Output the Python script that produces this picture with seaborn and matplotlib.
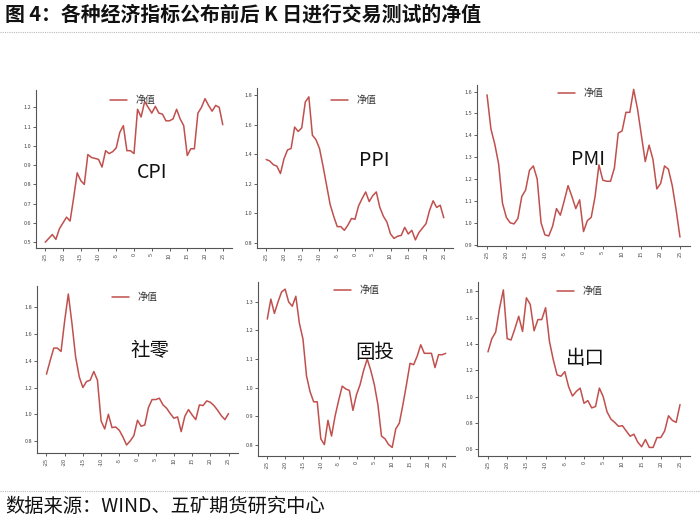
import matplotlib
matplotlib.use("Agg")
import matplotlib.pyplot as plt
import seaborn as sns
import pandas as pd

days = list(range(-25, 26))

cpi = [0.50, 0.52, 0.54, 0.515, 0.57, 0.60, 0.63, 0.61, 0.73, 0.86, 0.82, 0.80, 0.955,
       0.94, 0.935, 0.93, 0.89, 0.975, 0.96, 0.97, 0.99, 1.07, 1.105, 0.975, 0.975, 0.96,
       1.19, 1.15, 1.23, 1.20, 1.17, 1.205, 1.17, 1.165, 1.13, 1.13, 1.14, 1.19, 1.14,
       1.105, 0.95, 0.985, 0.985, 1.17, 1.20, 1.245, 1.21, 1.18, 1.21, 1.20, 1.11]
ppi = [1.365, 1.355, 1.33, 1.32, 1.27, 1.37, 1.43, 1.44, 1.585, 1.555, 1.58, 1.755, 1.79,
       1.53, 1.50, 1.44, 1.32, 1.19, 1.06, 0.98, 0.91, 0.91, 0.885, 0.92, 0.965, 0.96,
       1.05, 1.10, 1.145, 1.08, 1.12, 1.145, 1.04, 0.98, 0.94, 0.86, 0.83, 0.845, 0.85,
       0.905, 0.86, 0.885, 0.82, 0.87, 0.90, 0.93, 1.02, 1.085, 1.04, 1.055, 0.97]
pmi = [1.585, 1.43, 1.36, 1.27, 1.09, 1.025, 1.00, 0.995, 1.02, 1.12, 1.15, 1.24, 1.26,
       1.20, 1.00, 0.945, 0.94, 0.985, 1.065, 1.035, 1.10, 1.17, 1.12, 1.065, 1.105, 0.96,
       1.01, 1.025, 1.12, 1.265, 1.195, 1.19, 1.19, 1.25, 1.41, 1.42, 1.505, 1.505, 1.61,
       1.52, 1.40, 1.28, 1.355, 1.29, 1.155, 1.18, 1.26, 1.245, 1.17, 1.06, 0.935]
retail = [1.30, 1.40, 1.495, 1.495, 1.47, 1.70, 1.90, 1.68, 1.43, 1.28, 1.20, 1.245, 1.255,
          1.32, 1.255, 0.95, 0.89, 1.00, 0.90, 0.905, 0.88, 0.83, 0.77, 0.80, 0.84, 0.955,
          0.91, 0.92, 1.05, 1.11, 1.11, 1.12, 1.07, 1.045, 1.005, 0.97, 0.98, 0.87, 0.985,
          1.035, 0.995, 0.96, 1.07, 1.065, 1.10, 1.09, 1.065, 1.03, 0.99, 0.96, 1.005]
fai = [1.24, 1.31, 1.26, 1.30, 1.335, 1.345, 1.30, 1.285, 1.32, 1.225, 1.17, 1.04, 0.985,
       0.95, 0.95, 0.82, 0.80, 0.885, 0.83, 0.90, 0.955, 1.005, 0.995, 0.99, 0.92, 0.975,
       1.01, 1.06, 1.10, 1.06, 1.01, 0.94, 0.83, 0.82, 0.80, 0.79, 0.855, 0.875, 0.94,
       1.01, 1.085, 1.08, 1.11, 1.15, 1.12, 1.12, 1.12, 1.07, 1.115, 1.115, 1.12]
export = [1.34, 1.44, 1.49, 1.67, 1.81, 1.44, 1.43, 1.515, 1.61, 1.495, 1.75, 1.70, 1.50,
          1.585, 1.585, 1.675, 1.42, 1.28, 1.165, 1.155, 1.19, 1.075, 1.005, 1.04, 1.065,
          0.95, 0.97, 0.915, 0.925, 1.065, 1.00, 0.885, 0.83, 0.805, 0.775, 0.78, 0.74,
          0.70, 0.715, 0.655, 0.62, 0.675, 0.615, 0.615, 0.69, 0.69, 0.74, 0.855, 0.82,
          0.805, 0.94]

names = ["CPI", "PPI", "PMI", "社零", "固投", "出口"]
series = [cpi, ppi, pmi, retail, fai, export]
xticks = list(range(-25, 26, 5))
yticks = [
    [0.5, 0.6, 0.7, 0.8, 0.9, 1.0, 1.1, 1.2],
    [0.8, 1.0, 1.2, 1.4, 1.6, 1.8],
    [0.9, 1.0, 1.1, 1.2, 1.3, 1.4, 1.5, 1.6],
    [0.8, 1.0, 1.2, 1.4, 1.6, 1.8],
    [0.8, 0.9, 1.0, 1.1, 1.2, 1.3],
    [0.6, 0.8, 1.0, 1.2, 1.4, 1.6, 1.8],
]
ylims = [(0.47, 1.29), (0.765, 1.85), (0.894, 1.63), (0.71, 1.96), (0.76, 1.37), (0.55, 1.87)]
# panel boxes in pixels: left, right, top, bottom
boxes = [(36, 232, 90, 248), (257, 453, 88, 248), (477, 690, 85, 246),
         (37, 238, 286, 453), (258, 455, 282, 456), (478, 690, 282, 456)]
# legend anchor (pixels) = left of handle, center y
leg_pos = [(110, 100), (331, 100), (558, 93), (112, 297), (334, 290), (557, 291)]
# big label positions in pixels (center)
label_pos = [(152, 173), (374, 161), (588, 160), (150, 350), (375, 353), (585, 358)]

sns.set_theme(style="ticks")
plt.rcParams['font.family'] = ['Noto Sans CJK SC', 'DejaVu Sans']
plt.rcParams['axes.unicode_minus'] = False

W, H = 700, 522
fig = plt.figure(figsize=(W / 100, H / 100), dpi=100)
fig.patch.set_facecolor("white")

color = "#c0504d"
for i, (name, vals) in enumerate(zip(names, series)):
    l, r, t, b = boxes[i]
    ax = fig.add_axes([l / W, 1 - b / H, (r - l) / W, (b - t) / H])
    df = pd.DataFrame({"day": days, "净值": vals})
    sns.lineplot(data=df, x="day", y="净值", ax=ax, color=color, linewidth=1.1, label="净值")
    ax.set_xlim(-27.6, 27.6)
    ax.set_ylim(*ylims[i])
    ax.set_xticks(xticks)
    ax.set_xticklabels([str(v) for v in xticks], rotation=90)
    ax.set_yticks(yticks[i])
    ax.set_yticklabels([f"{v:.1f}" for v in yticks[i]])
    ax.tick_params(axis="both", labelsize=4, length=2, width=0.6, colors="#444444", pad=1.5)
    ax.set_xlabel("")
    ax.set_ylabel("")
    for s in ["top", "right"]:
        ax.spines[s].set_visible(False)
    for s in ["left", "bottom"]:
        ax.spines[s].set_color("#555555")
        ax.spines[s].set_linewidth(0.8)
    lx, ly = leg_pos[i]
    leg = ax.legend(loc="center left", bbox_to_anchor=(lx / W, 1 - ly / H),
                    bbox_transform=fig.transFigure, frameon=False, borderpad=0,
                    borderaxespad=0, fontsize=7.2, handlelength=1.7, handletextpad=0.9)
    for txt in leg.get_texts():
        txt.set_color("#333333")
    lx, ly = label_pos[i]
    fig.text(lx / W, 1 - ly / H, name, ha="center", va="center", fontsize=14, color="#111111")

fig.text(5 / W, 1 - 14 / H, "图 4：各种经济指标公布前后 K 日进行交易测试的净值", ha="left", va="center",
         fontsize=14.3, fontweight="bold", color="#111111")
fig.add_artist(plt.Line2D([0, 1], [1 - 31.5 / H, 1 - 31.5 / H], transform=fig.transFigure,
                          color="#bbbbbb", linewidth=0.8, linestyle=(0, (1, 1))))
fig.add_artist(plt.Line2D([0, 1], [1 - 490.5 / H, 1 - 490.5 / H], transform=fig.transFigure,
                          color="#bbbbbb", linewidth=0.8, linestyle=(0, (1, 1))))
fig.text(5 / W, 1 - 506 / H, "数据来源：WIND、五矿期货研究中心", ha="left", va="center",
         fontsize=13.9, color="#111111")

fig.savefig("out.png", dpi=100)
